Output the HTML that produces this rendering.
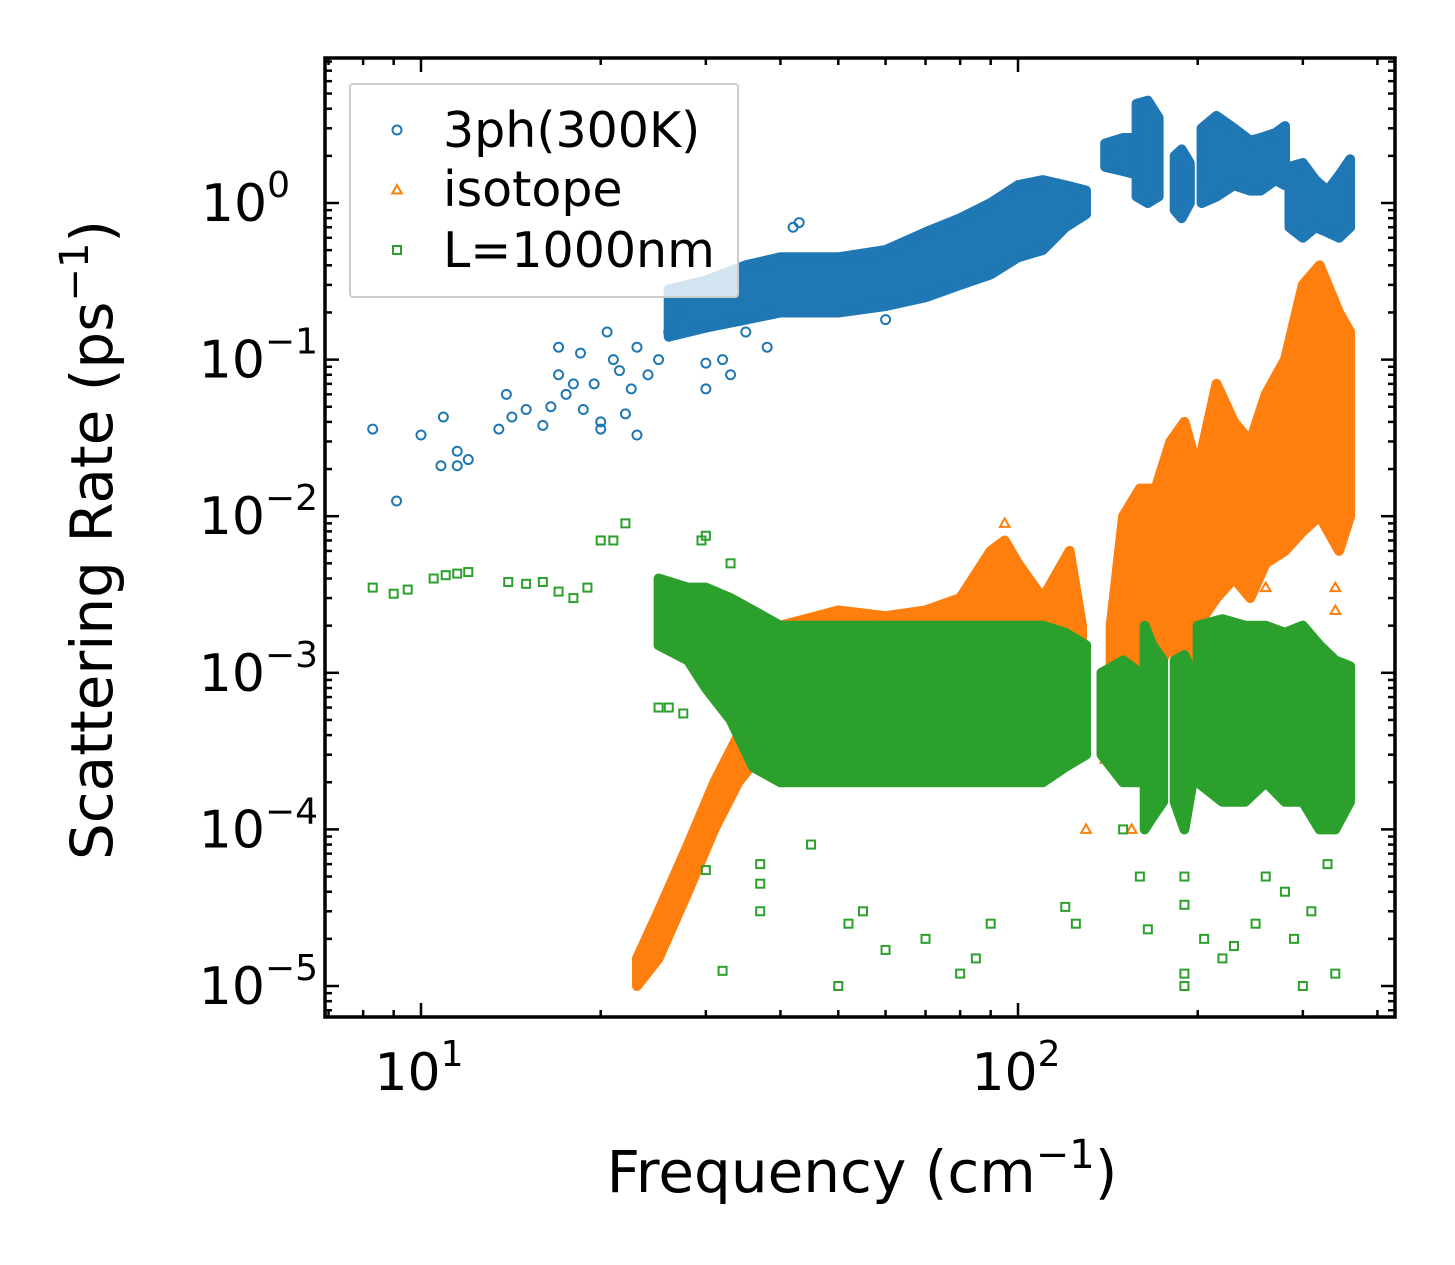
<!DOCTYPE html>
<html><head><meta charset="utf-8"><style>
body{margin:0;background:#fff;}
svg{display:block;font-family:"DejaVu Sans","Liberation Sans",sans-serif;}
</style></head><body>
<svg id="chart" width="1455" height="1265" viewBox="0 0 1455 1265" xmlns="http://www.w3.org/2000/svg" style="position:absolute;left:0;top:0">
<rect width="1455" height="1265" fill="#fff"/>
<g id="plot"></g>
<g id="axes"></g>
</svg>
<script>
// ---- data (null = segment break in dense-cloud envelopes) ----
const blueBandF  = [26,30,35,40,50,60,70,80,90,100,110,120,130,null,140,150,160,null,158,165,172,null,183,188,194,null,203,215,230,245,255,270,280,null,285,300,315,330,345,360];
const blueBandLo = [0.14,0.16,0.18,0.2,0.2,0.22,0.25,0.3,0.35,0.45,0.5,0.7,0.85,null,1.7,1.6,1.5,null,1.1,1.0,1.1,null,0.9,0.8,1.0,null,1.0,1.1,1.3,1.2,1.2,1.4,1.3,null,0.7,0.6,0.7,0.65,0.6,0.7];
const blueBandHi = [0.28,0.32,0.4,0.45,0.45,0.5,0.65,0.8,1.0,1.3,1.4,1.3,1.2,null,2.4,2.6,2.6,null,4.3,4.5,3.5,null,2.0,2.2,1.8,null,3.0,3.6,3.0,2.5,2.6,2.8,3.1,null,1.7,1.8,1.4,1.2,1.5,1.9];
const orangeBandF  = [23,25,28,31,34,37,40,50,60,70,80,90,95,100,110,122,128,null,143,150,160,170,180,190,200,215,230,245,260,280,300,320,345,360];
const orangeBandLo = [1e-5,1.5e-5,4e-5,1e-4,2e-4,3e-4,4e-4,5e-4,5e-4,5e-4,5e-4,5e-4,5e-4,5e-4,5e-4,5e-4,5e-4,null,3e-4,8e-4,1e-3,1e-3,1.5e-3,1e-3,2e-3,3e-3,4e-3,3e-3,5e-3,6e-3,8e-3,1e-2,6e-3,1e-2];
const orangeBandHi = [1.5e-5,3e-5,8e-5,2e-4,4e-4,7e-4,2e-3,2.5e-3,2.3e-3,2.5e-3,3e-3,6e-3,7e-3,5e-3,3e-3,6e-3,2e-3,null,2e-3,1e-2,1.5e-2,1.5e-2,3e-2,4e-2,2e-2,7e-2,4e-2,3e-2,6e-2,1e-1,3e-1,4e-1,2e-1,1.5e-1];
const greenBandF  = [25,28,30,33,36,40,50,60,70,80,90,100,110,120,130,null,138,150,160,null,163,168,175,null,183,190,196,null,200,220,240,260,280,300,320,340,360];
const greenBandLo = [1.5e-3,1.2e-3,8e-4,5e-4,2.5e-4,2e-4,2e-4,2e-4,2e-4,2e-4,2e-4,2e-4,2e-4,2.5e-4,3e-4,null,3e-4,2e-4,2e-4,null,1e-4,1.2e-4,1.5e-4,null,1.5e-4,1e-4,2e-4,null,2e-4,1.5e-4,1.5e-4,2e-4,1.5e-4,1.5e-4,1e-4,1e-4,1.5e-4];
const greenBandHi = [4e-3,3.5e-3,3.5e-3,3e-3,2.5e-3,2e-3,2e-3,2e-3,2e-3,2e-3,2e-3,2e-3,2e-3,1.8e-3,1.5e-3,null,1e-3,1.2e-3,1e-3,null,2e-3,1.5e-3,1.2e-3,null,1.2e-3,1.3e-3,1e-3,null,2e-3,2.2e-3,2e-3,2e-3,1.8e-3,2e-3,1.5e-3,1.2e-3,1.1e-3];
const blueF = [8.3,9.1,10,10.8,10.9,11.5,11.5,12,13.5,13.9,14.2,15,16,16.5,17,17,17.5,18,18.5,18.7,19.5,20,20,20.5,21,21.5,22,22.5,23,23,24,25,26,27,28,30,30,32,33,34,35,38,42,43,60];
const blueV = [0.036,0.0125,0.033,0.021,0.043,0.026,0.021,0.023,0.036,0.06,0.043,0.048,0.038,0.05,0.08,0.12,0.06,0.07,0.11,0.048,0.07,0.04,0.036,0.15,0.1,0.085,0.045,0.065,0.033,0.12,0.08,0.1,0.15,0.2,0.25,0.065,0.095,0.1,0.08,0.25,0.15,0.12,0.7,0.75,0.18];
const orangeF = [127,130,140,155,180,180,185,200,220,260,270,340,340,345,95];
const orangeV = [3.5e-4,1e-4,2.8e-4,1e-4,3e-3,4e-3,2e-3,1.5e-3,2e-3,3.5e-3,7e-3,2.5e-3,3.5e-3,1e-2,9e-3];
const greenF = [8.3,9,9.5,10.5,11,11.5,12,14,15,16,17,18,19,20,21,22,29.5,30,33,25,26,27.5,30,32,37,37,37,45,50,52,55,60,70,80,85,90,120,125,150,160,165,190,190,190,190,205,220,230,250,260,280,290,300,310,340,330];
const greenV = [3.5e-3,3.2e-3,3.4e-3,4e-3,4.2e-3,4.3e-3,4.4e-3,3.8e-3,3.7e-3,3.8e-3,3.3e-3,3e-3,3.5e-3,7e-3,7e-3,9e-3,7e-3,7.5e-3,5e-3,6e-4,6e-4,5.5e-4,5.5e-5,1.25e-5,6e-5,4.5e-5,3e-5,8e-5,1e-5,2.5e-5,3e-5,1.7e-5,2e-5,1.2e-5,1.5e-5,2.5e-5,3.2e-5,2.5e-5,1e-4,5e-5,2.3e-5,5e-5,3.3e-5,1.2e-5,1e-5,2e-5,1.5e-5,1.8e-5,2.5e-5,5e-5,4e-5,2e-5,1e-5,3e-5,1.2e-5,6e-5];
const xTickVals = [10,100];
const xTickLabels = ["1","2"];
const yTickExp = [0,-1,-2,-3,-4,-5];

// ---- axis functions ----
const L=325,R=1395,T=58,B=1017;
const X=f=>421+597*(Math.log10(f)-1);
const Y=v=>203-156.6*Math.log10(v);
const NS="http://www.w3.org/2000/svg";
const plot=document.getElementById('plot'), axes=document.getElementById('axes');
function mk(tag,attrs,parent){const e=document.createElementNS(NS,tag);for(const k in attrs)e.setAttribute(k,attrs[k]);parent.appendChild(e);return e;}

function band(F,Lo,Hi,color,name){
  let seg=[];
  const flush=()=>{ if(seg.length<2){seg=[];return;}
    let d='M'+seg.map(i=>X(F[i]).toFixed(1)+','+Y(Hi[i]).toFixed(1)).join('L');
    d+='L'+seg.slice().reverse().map(i=>X(F[i]).toFixed(1)+','+Y(Lo[i]).toFixed(1)).join('L')+'Z';
    const p=mk('path',{d:d,fill:color,stroke:color,'stroke-width':10,'stroke-linejoin':'round'},plot);
    
    
    seg=[];};
  for(let i=0;i<F.length;i++){ if(F[i]===null) flush(); else seg.push(i); }
  flush();
}
function marker(type,x,y,color,parent){
  let e;
  if(type==='o') e=mk('circle',{cx:x,cy:y,r:4.5,fill:'none',stroke:color,'stroke-width':2},parent);
  else if(type==='^') e=mk('path',{d:`M${x},${y-5}L${x+4.8},${y+3.5}L${x-4.8},${y+3.5}Z`,fill:'none',stroke:color,'stroke-width':2},parent);
  else e=mk('rect',{x:x-4,y:y-4,width:8,height:8,fill:'none',stroke:color,'stroke-width':2},parent);
  return e;
}
function points(F,V,type,color,name){
  for(let i=0;i<F.length;i++){
    const e=marker(type,X(F[i]),Y(V[i]),color,plot);
    
    
  }
}
const C1='#1f77b4',C2='#ff7f0e',C3='#2ca02c';
band(blueBandF,blueBandLo,blueBandHi,C1,'3ph-dense-cloud');
points(blueF,blueV,'o',C1,'3ph-point');
band(orangeBandF,orangeBandLo,orangeBandHi,C2,'isotope-dense-cloud');
points(orangeF,orangeV,'^',C2,'isotope-point');
band(greenBandF,greenBandLo,greenBandHi,C3,'boundary-dense-cloud');
points(greenF,greenV,'s',C3,'boundary-point');

// ---- ticks ----
const tk={stroke:'#000','stroke-width':2.5};
for(let e=0;e<=3;e++) for(let m=1;m<=9;m++){
  const f=m*Math.pow(10,e); const x=X(f); if(x<L||x>R) continue;
  const len=(m===1)?14:7;
  mk('line',Object.assign({x1:x,x2:x,y1:B,y2:B-len},tk),axes);
  mk('line',Object.assign({x1:x,x2:x,y1:T,y2:T+len},tk),axes);
}
for(let e=-6;e<=1;e++) for(let m=1;m<=9;m++){
  const v=m*Math.pow(10,e); const y=Y(v); if(y<T||y>B) continue;
  const len=(m===1)?14:7;
  mk('line',Object.assign({x1:L,x2:L+len,y1:y,y2:y},tk),axes);
  mk('line',Object.assign({x1:R,x2:R-len,y1:y,y2:y},tk),axes);
}
mk('rect',{x:L,y:T,width:R-L,height:B-T,fill:'none',stroke:'#000','stroke-width':3.5},axes);

// tick labels
xTickVals.forEach((v,i)=>{
  const t=mk('text',{x:X(v)-2,y:1090,'font-size':52,'text-anchor':'middle'},axes);
  
  
  t.innerHTML='10<tspan dy="-24" font-size="36">'+xTickLabels[i]+'</tspan>';
});
yTickExp.forEach(e=>{
  const t=mk('text',{x:e===0?290:318,y:Y(Math.pow(10,e))+18,'font-size':52,'text-anchor':'end'},axes);
  
  
  t.innerHTML='10<tspan dy="-24" font-size="36">'+(e===0?'0':'\u2212'+(-e))+'</tspan>';
});
</script>
<svg width="1455" height="1265" style="position:absolute;left:0;top:0">
<text x="862" y="1192" font-size="58" text-anchor="middle" font-family="DejaVu Sans, Liberation Sans, sans-serif">Frequency (cm<tspan dy="-24" font-size="40">−1</tspan><tspan dy="24">)</tspan></text>
<text transform="translate(112,540) rotate(-90)" font-size="58" text-anchor="middle" font-family="DejaVu Sans, Liberation Sans, sans-serif">Scattering Rate (ps<tspan dy="-24" font-size="40">−1</tspan><tspan dy="24">)</tspan></text>
<g font-family="DejaVu Sans, Liberation Sans, sans-serif" font-size="49">
<rect x="350" y="84" width="388" height="213" fill="#fff" fill-opacity="0.8" stroke="#ccc" stroke-width="2" rx="3"/>
<circle cx="397" cy="130" r="4.5" fill="none" stroke="#1f77b4" stroke-width="2"/>
<text x="443" y="147">3ph(300K)</text>
<path d="M397,185L401.8,193.5L392.2,193.5Z" fill="none" stroke="#ff7f0e" stroke-width="2"/>
<text x="443" y="206">isotope</text>
<rect x="393" y="246" width="8" height="8" fill="none" stroke="#2ca02c" stroke-width="2"/>
<text x="443" y="267">L=1000nm</text>
</g>
</svg>
</body></html>
